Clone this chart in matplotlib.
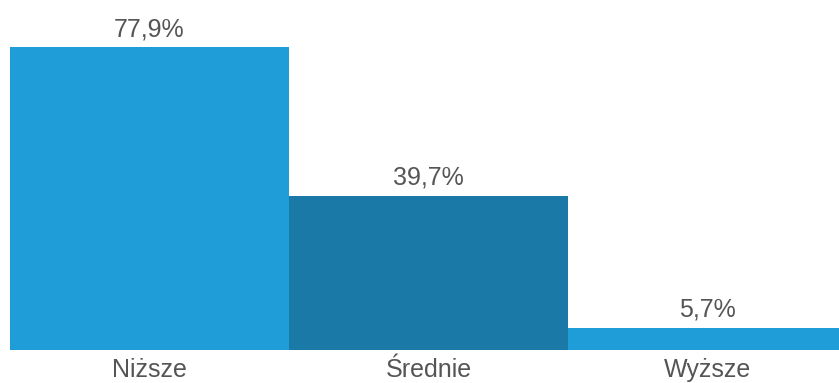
import matplotlib
matplotlib.use("Agg")
import matplotlib.pyplot as plt

categories = ["Niższe", "Średnie", "Wyższe"]
values = [77.9, 39.7, 5.7]
labels = ["77,9%", "39,7%", "5,7%"]
colors = ["#1E9DD8", "#1B79A8", "#1E9DD8"]

plt.rcParams['font.family'] = ['Liberation Sans', 'DejaVu Sans']

fig = plt.figure(figsize=(8.39, 3.83), dpi=100)
ax = fig.add_axes([10/839, 1 - 350/383, 829/839, 350/383])
x = list(range(len(categories)))
ax.bar(x, values, width=1.0, align='edge', color=colors, linewidth=0)
for xi, v, lab in zip(x, values, labels):
    ax.annotate(lab, (xi + 0.5, v), xytext=(0, 4.2), textcoords='offset points',
                ha='center', va='bottom', fontsize=18, color='#555555')
ax.set_xlim(0, 829/279)
ax.set_ylim(0, 90)
ax.set_xticks([xi + 0.5 for xi in x])
ax.set_xticklabels(categories, fontsize=18, color='#555555')
ax.tick_params(axis='x', length=0, pad=5.5)
ax.set_yticks([])
for s in ax.spines.values():
    s.set_visible(False)
fig.savefig("out.png", dpi=100)
